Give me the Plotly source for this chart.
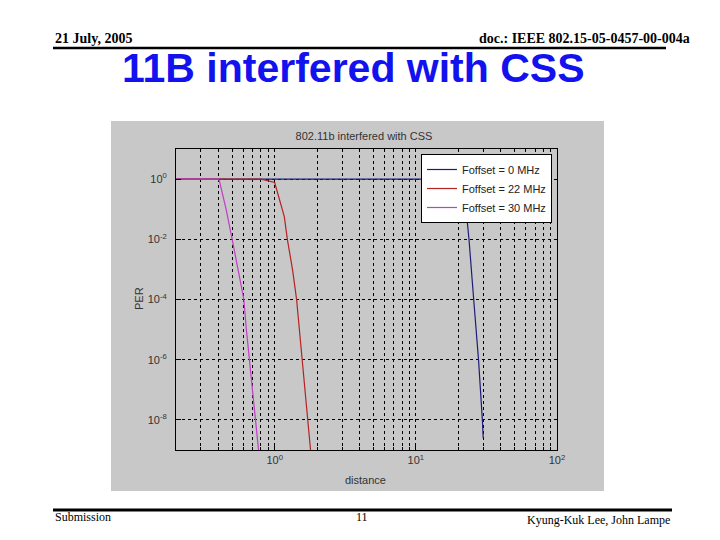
import numpy as np
import plotly.graph_objects as go

W, H = 720, 540
OX, OY = 8, 8  # page body margin of the browser

# ---- data ----
series_names = ["Foffset = 0 MHz", "Foffset = 22 MHz", "Foffset = 30 MHz"]
series_colors = ["#1c1c78", "#b42222", "#c23cc8"]

dist_0mhz = [0.2, 21.5, 22.4, 23.8, 25.7, 27.8, 29.6, 30.0]
per_0mhz = [1, 1, 1.8e-1, 1e-2, 1e-4, 1e-6, 1e-8, 2.5e-9]

dist_22mhz = [0.2, 0.8, 1.0, 1.17, 1.23, 1.34, 1.43, 1.57, 1.69, 1.73, 1.80, 1.82]
per_22mhz = [1, 1, 0.77, 5.7e-2, 1e-2, 9.5e-4, 1e-4, 1e-6, 2.6e-8, 1e-8, 1e-9, 5e-10]

dist_30mhz = [0.2, 0.40, 0.407, 0.454, 0.50, 0.55, 0.605, 0.628, 0.662, 0.711, 0.73, 0.77, 0.78]
per_30mhz = [1, 1, 0.83, 9.5e-2, 1e-2, 9.5e-4, 1e-4, 1.2e-5, 1e-6, 4.4e-8, 1e-8, 1e-9, 5e-10]

x_major = [1, 10, 100]
x_major_text = ["10<sup>0</sup>", "10<sup>1</sup>", "10<sup>2</sup>"]
x_minor = [0.3, 0.4, 0.5, 0.6, 0.7, 0.8, 0.9, 2, 3, 4, 5, 6, 7, 8, 9,
           20, 30, 40, 50, 60, 70, 80, 90]
y_major = [1, 1e-2, 1e-4, 1e-6, 1e-8]
y_major_text = ["10<sup>0</sup>", "10<sup>-2</sup>", "10<sup>-4</sup>",
                "10<sup>-6</sup>", "10<sup>-8</sup>"]


def px(x):
    return (x - OX) / W


def py(y):
    return 1 - (y - OY) / H


fig = go.Figure()
for name, color, xs, ys in zip(series_names, series_colors,
                               [dist_0mhz, dist_22mhz, dist_30mhz],
                               [per_0mhz, per_22mhz, per_30mhz]):
    fig.add_trace(go.Scatter(x=xs, y=ys, mode="lines", name=name,
                             line=dict(color=color, width=1.2)))

grid_common = dict(showgrid=True, gridcolor="black", gridwidth=1,
                   griddash="3px,3px")
sans = "Liberation Sans, Arial, sans-serif"
tickfont = dict(family=sans, size=11, color="#333333")

fig.update_layout(
    width=W, height=H,
    margin=dict(l=0, r=0, t=0, b=0, autoexpand=False),
    paper_bgcolor="white",
    plot_bgcolor="white",
    showlegend=True,
    xaxis=dict(
        type="log", range=[np.log10(0.2), 2],
        domain=[px(176), px(557)],
        showline=True, mirror=True, linecolor="black", linewidth=1,
        tickmode="array", tickvals=x_major, ticktext=x_major_text,
        ticks="inside", ticklen=5, tickcolor="black",
        tickfont=tickfont, zeroline=False,
        minor=dict(tickmode="array", tickvals=x_minor, ticks="inside",
                   ticklen=3, tickcolor="black", **grid_common),
        **grid_common,
    ),
    yaxis=dict(
        type="log", range=[-9, 1],
        domain=[py(450), py(149)],
        showline=True, mirror=True, linecolor="black", linewidth=1,
        tickmode="array", tickvals=y_major, ticktext=y_major_text,
        ticks="inside", ticklen=5, tickcolor="black",
        tickfont=tickfont, zeroline=False, ticklabelstandoff=6,
        **grid_common,
    ),
    legend=dict(
        x=px(552), y=py(154), xanchor="right", yanchor="top",
        bgcolor="white", bordercolor="black", borderwidth=1,
        font=dict(family=sans, size=11, color="#222222"),
        tracegroupgap=0,
    ),
    title=dict(
        text="802.11b interfered with CSS",
        x=px(364), y=py(136), xanchor="center", yanchor="middle",
        xref="paper", yref="paper",
        font=dict(family=sans, size=11, color="#333333"),
    ),
)

# grey figure background of the embedded chart
fig.add_shape(type="rect", xref="paper", yref="paper",
              x0=px(111), x1=px(604), y0=py(491), y1=py(121),
              fillcolor="#c8c8c8", line=dict(width=0), layer="below")

# header / footer rules
fig.add_shape(type="line", xref="paper", yref="paper",
              x0=px(53), x1=px(666), y0=py(48), y1=py(48),
              line=dict(color="black", width=2.5))
fig.add_shape(type="line", xref="paper", yref="paper",
              x0=px(53), x1=px(672), y0=py(510), y1=py(510),
              line=dict(color="black", width=3))

serif = "Liberation Serif, Times New Roman, serif"
ann = [
    dict(text="<b>21 July, 2005</b>", x=px(53), y=py(38), xanchor="left",
         font=dict(family=serif, size=14, color="black")),
    dict(text="<b>doc.: IEEE 802.15-05-0457-00-004a</b>", x=px(692), y=py(38),
         xanchor="right", font=dict(family=serif, size=14, color="black")),
    dict(text="<b>11B interfered with CSS</b>", x=px(353), y=py(68),
         xanchor="center",
         font=dict(family=sans, size=41, color="#1212ee")),
    dict(text="Submission", x=px(53), y=py(517), xanchor="left",
         font=dict(family=serif, size=12, color="black")),
    dict(text="11", x=px(362), y=py(517), xanchor="center",
         font=dict(family=serif, size=12, color="black")),
    dict(text="Kyung-Kuk Lee, John Lampe", x=px(672), y=py(520), xanchor="right",
         font=dict(family=serif, size=12, color="black")),
    dict(text="distance", x=px(365), y=py(480), xanchor="center",
         font=dict(family=sans, size=11, color="#333333")),
    dict(text="PER", x=px(139), y=py(299), xanchor="center", textangle=-90,
         font=dict(family=sans, size=11, color="#333333")),
]
for a in ann:
    fig.add_annotation(xref="paper", yref="paper", yanchor="middle",
                       showarrow=False, **a)

fig.write_html("out.html")
